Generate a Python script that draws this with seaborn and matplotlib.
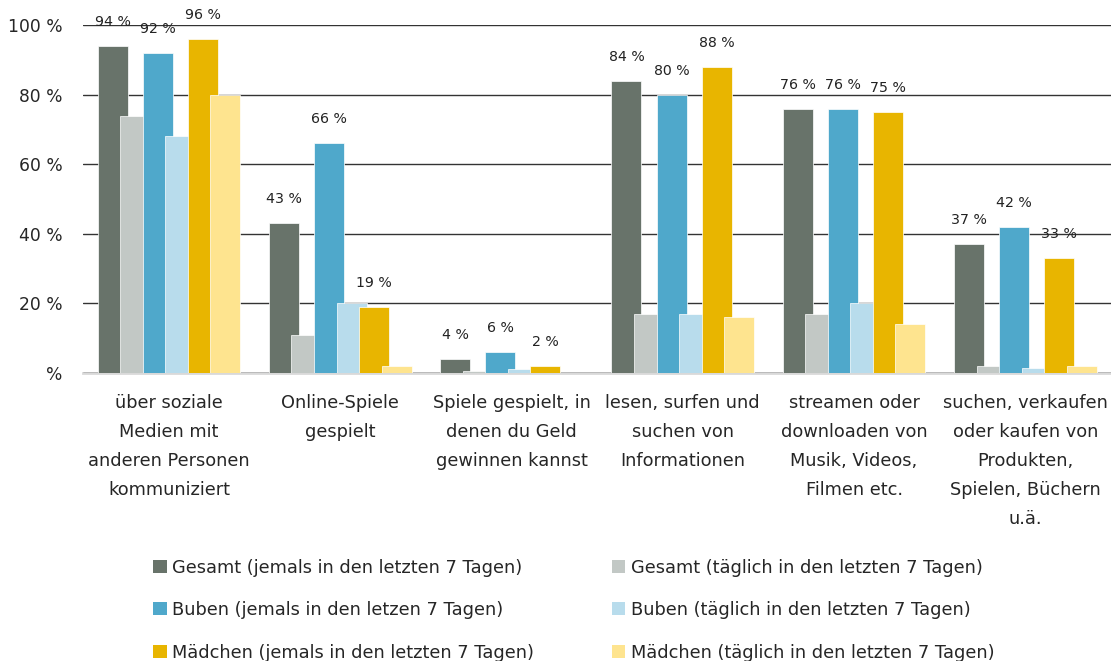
import matplotlib
matplotlib.use("Agg")
import matplotlib.pyplot as plt
import seaborn as sns
import pandas as pd
from matplotlib.patches import Patch

# Daten
categories = [
    "über soziale\nMedien mit\nanderen Personen\nkommuniziert",
    "Online-Spiele\ngespielt",
    "Spiele gespielt, in\ndenen du Geld\ngewinnen kannst",
    "lesen, surfen und\nsuchen von\nInformationen",
    "streamen oder\ndownloaden von\nMusik, Videos,\nFilmen etc.",
    "suchen, verkaufen\noder kaufen von\nProdukten,\nSpielen, Büchern\nu.ä.",
]
series = [
    "Gesamt (jemals in den letzten 7 Tagen)",
    "Gesamt (täglich in den letzten 7 Tagen)",
    "Buben (jemals in den letzen 7 Tagen)",
    "Buben (täglich in den letzten 7 Tagen)",
    "Mädchen (jemals in den letzten 7 Tagen)",
    "Mädchen (täglich in den letzten 7 Tagen)",
]
gesamt_jemals = [94, 43, 4, 84, 76, 37]
gesamt_taeglich = [74, 11, 0.5, 17, 17, 2]
buben_jemals = [92, 66, 6, 80, 76, 42]
buben_taeglich = [68, 20, 1, 17, 20, 1.5]
maedchen_jemals = [96, 19, 2, 88, 75, 33]
maedchen_taeglich = [80, 2, 0, 16, 14, 2]
colors = ["#68736a", "#c2c8c5", "#4fa8cb", "#b8dcec", "#e8b500", "#fee48f"]

values = [gesamt_jemals, gesamt_taeglich, buben_jemals, buben_taeglich,
          maedchen_jemals, maedchen_taeglich]
rows = []
for s, vals in zip(series, values):
    for c, v in zip(categories, vals):
        rows.append({"Kategorie": c, "Serie": s, "Wert": v})
df = pd.DataFrame(rows)

sns.set_style("white")
plt.rcParams["font.family"] = ["DejaVu Sans"]

fig = plt.figure(figsize=(11.11, 6.61), dpi=100)
ax = fig.add_axes([0.075, 0.436, 0.925, 0.526])

sns.barplot(data=df, x="Kategorie", y="Wert", hue="Serie", hue_order=series,
            palette=dict(zip(series, colors)), width=0.79, dodge=True,
            legend=False, ax=ax, edgecolor="white", linewidth=0.5, saturation=1)

# Balken verbreitern, damit sie sich überlappen
new_w = 0.175
for cont in ax.containers:
    for p in cont:
        cx = p.get_x() + p.get_width() / 2
        p.set_width(new_w)
        p.set_x(cx - new_w / 2)

# Beschriftungen über den "jemals"-Balken
for idx in [0, 2, 4]:
    for p in ax.containers[idx]:
        h = p.get_height()
        ax.annotate(f"{h:.0f} %", (p.get_x() + p.get_width() / 2, h),
                    xytext=(0, 24), textcoords="offset pixels",
                    ha="center", va="center", fontsize=10.2, color="#222222",
                    annotation_clip=False)

ax.set_xlim(-0.5, 5.5)
ax.set_ylim(0, 100)
ax.set_yticks([0, 20, 40, 60, 80, 100])
ax.set_yticklabels(["%", "20 %", "40 %", "60 %", "80 %", "100 %"], fontsize=12.3)
ax.yaxis.grid(True, color="#333333", linewidth=1)
ax.set_axisbelow(True)
ax.tick_params(axis="y", length=0, pad=15)
ax.tick_params(axis="x", length=0, pad=15)
for lbl in ax.get_xticklabels():
    lbl.set_fontsize(12.8)
    lbl.set_linespacing(1.8)
    lbl.set_verticalalignment("top")
ax.set_xlabel("")
ax.set_ylabel("")
for sp in ["left", "top", "right"]:
    ax.spines[sp].set_visible(False)
ax.spines["bottom"].set_color("#d9d9d9")
ax.spines["bottom"].set_linewidth(2)
ax.spines["bottom"].set_zorder(0.5)

# Legende in zwei Spalten
def make_legend(idx, x):
    handles = [Patch(facecolor=colors[i], edgecolor="none") for i in idx]
    labels = [series[i] for i in idx]
    leg = fig.legend(handles, labels, loc="upper left",
                     bbox_to_anchor=(x, 0.155), frameon=False, fontsize=12.8,
                     handlelength=0.75, handleheight=0.75, handletextpad=0.3,
                     labelspacing=1.38, borderaxespad=0, borderpad=0)
    return leg

make_legend([0, 2, 4], 0.138)
make_legend([1, 3, 5], 0.551)

fig.savefig("out.png", dpi=100)
